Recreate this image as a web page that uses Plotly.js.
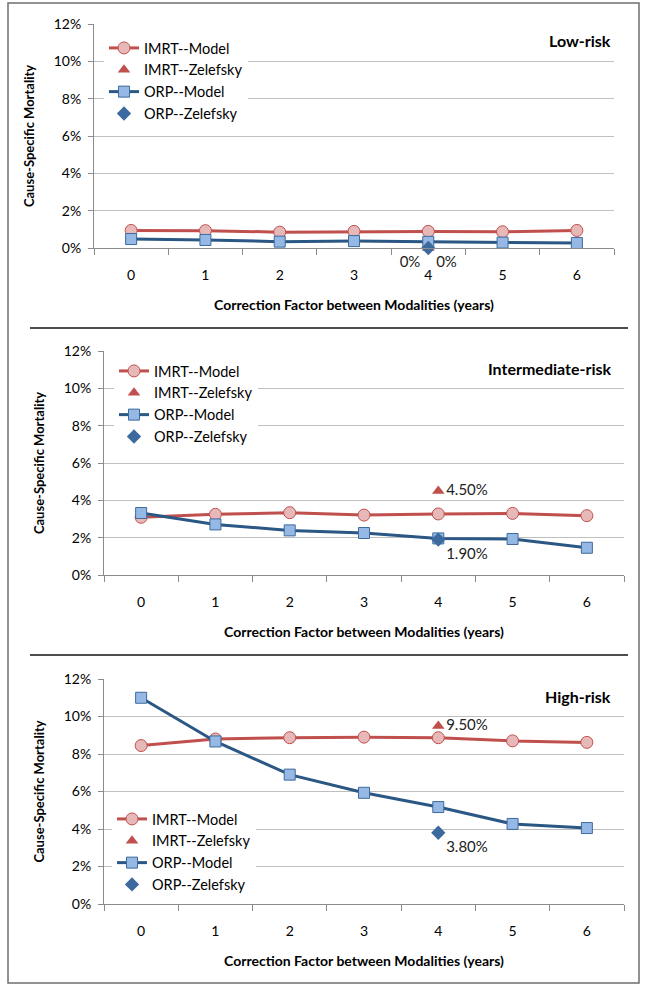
<!DOCTYPE html>
<html>
<head>
<meta charset="utf-8">
<script src="https://cdn.plot.ly/plotly-3.0.1.min.js"></script>
<style>html,body{margin:0;padding:0;background:#fff;}#chart{width:645px;height:985px;}</style>
</head>
<body>
<div id="chart"></div>
<script>
// ---- data ----
var years = ["0", "1", "2", "3", "4", "5", "6"];
var zelefskyYear = ["4"];

var lowImrtModel = [0.94, 0.93, 0.85, 0.89, 0.89, 0.87, 0.94];
var lowOrpModel = [0.48, 0.43, 0.34, 0.37, 0.33, 0.29, 0.27];
var lowImrtZelefsky = [0];
var lowOrpZelefsky = [0];
var lowImrtLabel = ["0%"];
var lowOrpLabel = ["0%"];

var intImrtModel = [3.09, 3.25, 3.34, 3.21, 3.27, 3.30, 3.18];
var intOrpModel = [3.32, 2.71, 2.39, 2.25, 1.96, 1.93, 1.46];
var intImrtZelefsky = [4.5];
var intOrpZelefsky = [1.9];
var intImrtLabel = ["4.50%"];
var intOrpLabel = ["1.90%"];

var highImrtModel = [8.45, 8.80, 8.87, 8.90, 8.87, 8.70, 8.62];
var highOrpModel = [11.0, 8.67, 6.90, 5.93, 5.17, 4.27, 4.05];
var highImrtZelefsky = [9.5];
var highOrpZelefsky = [3.8];
var highImrtLabel = ["9.50%"];
var highOrpLabel = ["3.80%"];

var panelNames = ["Low-risk", "Intermediate-risk", "High-risk"];
var seriesNames = ["IMRT--Model", "IMRT--Zelefsky", "ORP--Model", "ORP--Zelefsky"];
var xTitle = "Correction Factor between Modalities (years)";
var yTitle = "Cause-Specific Mortality";

// ---- styling ----
var W = 645, H = 985;
var FONT = "Lato, 'Open Sans', sans-serif";
var RED = "#c0504d", PINK = "#e6b9b8", BLUE = "#2a5783", LBLUE = "#95b9e4", DBLUE = "#3d6a9e";
function px(x) { return x / W; }
function py(y) { return 1 - y / H; }

var panels = [
  { imrt: lowImrtModel, orp: lowOrpModel, iz: lowImrtZelefsky, oz: lowOrpZelefsky, il: lowImrtLabel, ol: lowOrpLabel,
    x0: 94, x1: 614, yTop: 24, yBot: 248, legX: 104, legY: 32, iPos: "bottom right", oPos: "bottom left" },
  { imrt: intImrtModel, orp: intOrpModel, iz: intImrtZelefsky, oz: intOrpZelefsky, il: intImrtLabel, ol: intOrpLabel,
    x0: 104, x1: 624, yTop: 351, yBot: 575, legX: 114, legY: 355, iPos: "middle right", oPos: "bottom right" },
  { imrt: highImrtModel, orp: highOrpModel, iz: highImrtZelefsky, oz: highOrpZelefsky, il: highImrtLabel, ol: highOrpLabel,
    x0: 104, x1: 624, yTop: 679, yBot: 904, legX: 112, legY: 803, iPos: "middle right", oPos: "bottom right" }
];

var traces = [];
var layout = {
  width: W, height: H,
  margin: { l: 0, r: 0, t: 0, b: 0 },
  paper_bgcolor: "#fff", plot_bgcolor: "#fff",
  font: { family: FONT, size: 12, color: "#000" },
  showlegend: true,
  annotations: [], shapes: []
};

panels.forEach(function (p, i) {
  var n = i + 1;
  var xa = "x" + (n === 1 ? "" : n), ya = "y" + (n === 1 ? "" : n);
  var leg = "legend" + (n === 1 ? "" : n);
  traces.push({
    type: "scatter", mode: "lines+markers", name: seriesNames[0], x: years, y: p.imrt,
    xaxis: xa, yaxis: ya, legend: leg, cliponaxis: false,
    line: { color: RED, width: 3 },
    marker: { symbol: "circle", size: 12, color: PINK, line: { color: RED, width: 1 } }
  });
  traces.push({
    type: "scatter", mode: "markers+text", name: seriesNames[1], x: zelefskyYear, y: p.iz,
    xaxis: xa, yaxis: ya, legend: leg, cliponaxis: false,
    text: p.il, textposition: p.iPos, textfont: { family: FONT, size: 15, color: "#222" },
    marker: { symbol: "triangle-up", size: 11, color: RED }
  });
  traces.push({
    type: "scatter", mode: "lines+markers", name: seriesNames[2], x: years, y: p.orp,
    xaxis: xa, yaxis: ya, legend: leg, cliponaxis: false,
    line: { color: BLUE, width: 3 },
    marker: { symbol: "square", size: 11, color: LBLUE, line: { color: DBLUE, width: 1 } }
  });
  traces.push({
    type: "scatter", mode: "markers+text", name: seriesNames[3], x: zelefskyYear, y: p.oz,
    xaxis: xa, yaxis: ya, legend: leg, cliponaxis: false,
    text: p.ol, textposition: p.oPos, textfont: { family: FONT, size: 15, color: "#222" },
    marker: { symbol: "diamond", size: 11, color: DBLUE }
  });

  layout["xaxis" + (n === 1 ? "" : n)] = {
    domain: [px(p.x0), px(p.x1)], anchor: ya,
    type: "category", categoryorder: "array", categoryarray: years,
    range: [-0.5, 6.5], tickson: "boundaries",
    ticks: "outside", ticklen: 6, tickcolor: "#8c8c8c",
    showline: true, linecolor: "#8c8c8c", linewidth: 1,
    showgrid: false, zeroline: false, fixedrange: true,
    tickfont: { family: FONT, size: 14, color: "#000" },
    ticklabelstandoff: 14,
    title: { text: "<b>" + xTitle + "</b>", font: { family: FONT, size: 14, color: "#000" }, standoff: 18 }
  };
  layout["yaxis" + (n === 1 ? "" : n)] = {
    domain: [py(p.yBot), py(p.yTop)], anchor: xa,
    range: [0, 12], dtick: 2, ticksuffix: "%",
    ticks: "outside", ticklen: 5, tickcolor: "#8c8c8c",
    showline: true, linecolor: "#8c8c8c", linewidth: 1,
    showgrid: true, gridcolor: "#bfbfbf", gridwidth: 1, zeroline: false, fixedrange: true,
    tickfont: { family: FONT, size: 14, color: "#000" },
    ticklabelstandoff: 4,
    title: { text: "<b>" + yTitle + "</b>", font: { family: FONT, size: 13, color: "#000" }, standoff: 16 }
  };
  layout[leg] = {
    x: px(p.legX), y: py(p.legY), xanchor: "left", yanchor: "top",
    bgcolor: "rgba(255,255,255,1)", borderwidth: 0,
    font: { family: FONT, size: 14.5, color: "#000" },
    itemwidth: 30, tracegroupgap: 0
  };
  layout.annotations.push({
    xref: "paper", yref: "paper", x: px(613), y: py(p.yTop + 17), xanchor: "right", yanchor: "middle",
    text: "<b>" + panelNames[i] + "</b>", showarrow: false,
    font: { family: FONT, size: 16, color: "#000" }
  });
});

// frame and separators
layout.shapes.push({ type: "rect", xref: "paper", yref: "paper", x0: px(8), x1: px(639), y0: py(983), y1: py(3),
  line: { color: "#6f6f6f", width: 1.5 }, layer: "below" });
layout.shapes.push({ type: "line", xref: "paper", yref: "paper", x0: px(30), x1: px(628), y0: py(328), y1: py(328),
  line: { color: "#111", width: 1.5 } });
layout.shapes.push({ type: "line", xref: "paper", yref: "paper", x0: px(30), x1: px(628), y0: py(655), y1: py(655),
  line: { color: "#111", width: 1.5 } });

Plotly.newPlot("chart", traces, layout, { displayModeBar: false, staticPlot: true });
</script>
</body>
</html>
